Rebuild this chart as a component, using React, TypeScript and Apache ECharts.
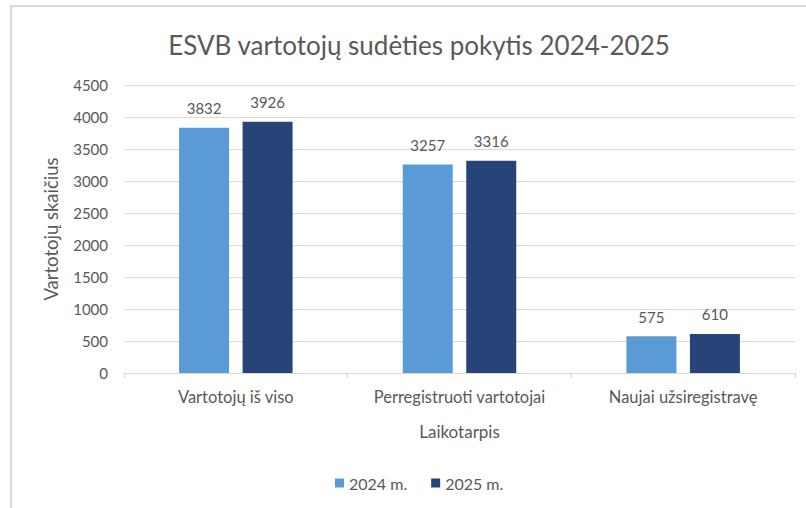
import React, { useEffect, useRef } from "react";
import * as echarts from "echarts";

const categories = ["Vartotojų iš viso", "Perregistruoti vartotojai", "Naujai užsiregistravę"];
const series2024 = [3832, 3257, 575];
const series2025 = [3926, 3316, 610];
const seriesNames = ["2024 m.", "2025 m."];
const titleText = "ESVB vartotojų sudėties pokytis 2024-2025";
const yAxisName = "Vartotojų skaičius";
const xAxisName = "Laikotarpis";

const FONT = "Lato, 'Open Sans', sans-serif";
const TXT = "#595959";

export default function App() {
  const ref = useRef<HTMLDivElement>(null);
  useEffect(() => {
    if (!ref.current) return;
    const chart = echarts.init(ref.current, null, { renderer: "svg" });
    const label = {
      show: true,
      position: "top" as const,
      distance: 12,
      color: TXT,
      fontSize: 15,
      fontFamily: FONT,
    };
    chart.setOption({
      animation: false,
      backgroundColor: "#ffffff",
      textStyle: { fontFamily: FONT, color: TXT },
      graphic: [
        {
          type: "rect",
          shape: { x: 11, y: 6, width: 820, height: 520 },
          style: { fill: "none", stroke: "#d9d9d9", lineWidth: 2 },
          silent: true,
        },
      ],
      title: {
        text: titleText,
        left: 414,
        textAlign: "center",
        top: 27,
        textStyle: { fontFamily: FONT, fontSize: 26, fontWeight: "normal", color: TXT },
      },
      legend: {
        data: seriesNames,
        left: 330,
        top: 470,
        itemWidth: 9,
        itemHeight: 9,
        itemGap: 24,
        icon: "rect",
        textStyle: { fontFamily: FONT, fontSize: 16, color: TXT },
      },
      grid: { left: 124, right: 11, top: 85, bottom: 135, containLabel: false },
      xAxis: {
        type: "category",
        data: categories,
        name: xAxisName,
        nameLocation: "middle",
        nameGap: 50,
        nameTextStyle: { fontFamily: FONT, fontSize: 17, color: TXT },
        axisLine: { lineStyle: { color: "#d9d9d9", width: 1 } },
        axisTick: { show: true, length: 5, lineStyle: { color: "#d9d9d9" } },
        axisLabel: { color: TXT, fontSize: 16.5, fontFamily: FONT, margin: 15 },
      },
      yAxis: {
        type: "value",
        min: 0,
        max: 4500,
        interval: 500,
        name: yAxisName,
        nameLocation: "middle",
        nameGap: 64,
        nameTextStyle: { fontFamily: FONT, fontSize: 18.5, color: TXT },
        axisLine: { show: false },
        axisTick: { show: false },
        axisLabel: {
          color: TXT,
          fontSize: 15,
          fontFamily: FONT,
          margin: 16,
          formatter: (v: number) => String(v),
        },
        splitLine: { lineStyle: { color: "#d9d9d9", width: 1 } },
      },
      series: [
        {
          name: seriesNames[0],
          type: "bar",
          data: series2024,
          barWidth: 50,
          barGap: "27%",
          itemStyle: { color: "#5B9BD5" },
          label,
        },
        {
          name: seriesNames[1],
          type: "bar",
          data: series2025,
          barWidth: 50,
          barGap: "27%",
          itemStyle: { color: "#264478" },
          label,
        },
      ],
    });
    return () => chart.dispose();
  }, []);
  return (
    <div
      ref={ref}
      style={{ position: "fixed", left: 0, top: 0, width: 806, height: 508 }}
    />
  );
}
